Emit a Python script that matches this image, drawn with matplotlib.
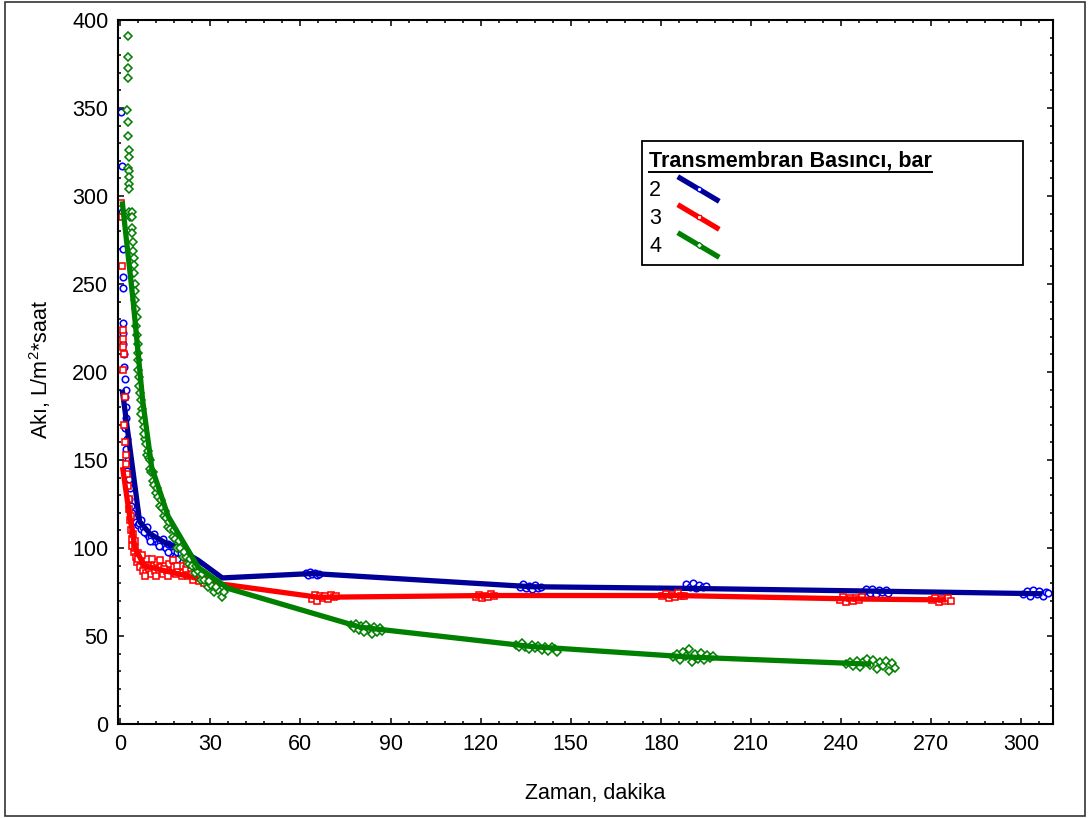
import matplotlib
matplotlib.use("Agg")
import matplotlib.pyplot as plt
from matplotlib.lines import Line2D
from matplotlib.patches import Rectangle
from matplotlib.ticker import MultipleLocator

W, H = 1089, 818

# ---- fitted lines (time, flux) ----
line2_t = [0.7, 6.5, 10, 15, 20, 26, 34, 64, 137, 191, 251, 307]
line2_y = [190, 115, 108, 103, 99, 93, 83, 85.5, 78, 77, 75.5, 74]
line3_t = [0.8, 3, 5, 8, 15, 25, 30, 36, 66, 122, 185, 246, 275]
line3_y = [146, 120, 100, 90, 87, 83, 80, 79, 72, 73, 73, 71, 70.5]
line4_t = [0.7, 4.3, 7.5, 10.5, 16, 26, 36, 80, 137, 190, 250]
line4_y = [297, 241, 184, 146, 118, 89, 77, 55, 44, 38, 34]

# ---- measured points, 2 bar ----
pts2_t = [0.4, 0.5, 0.5, 0.8, 0.9, 0.8, 1.0, 0.9, 1.1, 1.3, 1.2, 1.7, 1.9, 1.5, 1.8,
          2.1, 1.7, 2.3, 2.0, 2.5, 2.4, 2.9, 3.2, 3.1, 3.6, 4.0, 4.4, 5.2, 5.8, 6.4,
          7.0, 7.6, 8.3, 9.0, 9.6, 10.3, 11.0, 11.8, 12.5, 13.2, 14.0, 14.6, 15.3,
          16.0, 16.8, 17.5, 18.3, 19.1,
          6.8, 7.9, 8.8, 10.0, 11.4, 12.8, 14.3, 15.8, 17.2, 18.8, 20.2,
          61.8, 62.5, 63.2, 64.0, 64.8, 65.5, 66.3,
          133.0, 134.2, 135.0, 136.1, 137.0, 138.2, 139.1, 140.0,
          188.5, 189.8, 190.6, 191.7, 192.8, 194.0, 195.0,
          247.2, 248.3, 249.5, 250.4, 251.6, 252.5, 253.6, 254.8, 255.6,
          300.5, 301.8, 302.9, 304.0, 305.1, 306.0, 307.2, 308.3, 309.0]
pts2_y = [348, 317, 291, 270, 254, 248, 228, 222, 216, 210, 203, 196, 190, 186, 180,
          174, 168, 162, 156, 150, 144, 139, 134, 128, 124, 120, 117, 115, 113, 114,
          111, 112, 109, 108, 106, 107, 104, 105, 103, 104, 101, 103, 100,
          102, 97, 99, 95, 98,
          116, 109, 112, 104, 108, 101, 105, 98, 101, 94, 97,
          86, 84.5, 86.5, 85, 86, 84.5, 85.5,
          78, 79.5, 77, 78.5, 76.5, 79, 77.5, 78,
          79.5, 78, 80, 77.5, 79, 78, 78.5,
          75, 76.5, 74.5, 76.5, 74, 76, 75, 76, 74.5,
          74, 75.5, 73, 76, 74, 75.5, 73, 75, 74.5]

# ---- measured points, 3 bar ----
pts3_t = [0.3, 0.5, 0.6, 0.9, 0.8, 1.0, 1.2, 1.1, 1.5, 1.3, 1.6, 1.9, 2.1, 2.3, 2.5,
          2.8, 3.0, 3.2, 3.5, 3.8, 4.1, 4.5, 4.9, 5.3, 5.7, 6.1, 6.6, 7.0, 7.5, 8.0,
          8.5, 9.0, 9.6, 10.2, 10.8, 11.5, 12.2, 12.9, 13.6, 14.3, 15.0, 15.7, 16.4,
          17.1, 17.9, 18.6, 19.4, 20.2, 21.0, 21.8, 22.6, 23.5, 24.4, 25.3, 26.2,
          27.1, 28.0, 28.9, 29.8,
          3.6, 4.4, 5.1, 6.0, 7.3, 8.2, 9.3, 10.5, 11.9, 13.3, 14.7, 16.1, 17.6,
          19.0, 20.6, 22.2, 24.0, 25.8, 27.5,
          63.8, 64.8, 65.6, 66.5, 67.4, 68.3, 69.2, 70.2, 71.1, 72.0,
          118.5, 119.6, 120.5, 121.6, 122.5, 123.5, 124.6,
          180.5, 181.6, 182.6, 183.6, 184.6, 185.6, 186.8, 187.8,
          239.5, 240.6, 241.7, 242.8, 243.8, 245.0, 246.0, 247.0,
          270.2, 271.3, 272.4, 273.5, 274.6, 275.6, 276.5]
pts3_y = [296, 288, 260, 224, 219, 214, 210, 201, 186, 170, 160, 153, 148, 142, 135,
          128, 122, 116, 110, 105, 101, 98, 104, 95, 92, 97, 89, 93, 87, 91,
          86, 94, 88, 85, 90, 87, 92, 86, 89, 85, 90, 87, 91,
          86, 89, 85, 88, 90, 86, 88, 84, 87, 82, 85, 81,
          83, 80, 82, 80,
          118, 108, 100, 94, 96, 84, 90, 94, 84, 93, 88, 84, 93,
          90, 84, 91, 85, 84, 82,
          71, 73.5, 70, 72.5, 71.5, 73, 71, 73.5, 72, 73,
          72, 73.5, 71.5, 73, 72, 74, 72.5,
          72.5, 74, 71.5, 73.5, 72, 74.5, 73, 72.5,
          70.5, 72, 69.5, 71.5, 70, 71.5, 70.5, 72,
          70.5, 71.5, 69.5, 71, 70, 71.5, 70]

# ---- measured points, 4 bar ----
pts4_t = [2.6, 2.5, 2.5, 2.6, 2.4, 2.5, 2.7, 2.8, 2.8, 2.7, 2.9, 2.8, 2.8, 2.9, 3.1,
          3.2, 3.8, 4.0, 3.9, 4.1, 4.2, 4.3, 4.6, 4.5, 4.6, 4.9, 5.0, 5.1, 5.2, 5.5,
          5.4, 5.6, 5.8, 5.9, 6.0, 6.1, 6.2, 6.4, 6.6, 6.9, 7.2, 7.6, 7.9, 8.3, 8.6,
          9.0, 9.5, 9.9, 10.4, 10.9, 11.4, 12.0, 12.6, 13.2, 13.8, 14.5, 15.2, 15.9,
          16.7, 17.5, 18.3, 19.1, 20.0, 20.9, 21.8, 22.8, 23.8, 24.8, 25.8, 26.9,
          28.0, 29.1, 30.2, 31.4, 32.6, 33.8, 34.6,
          7.0, 8.0, 9.2, 10.0, 11.0, 12.3, 13.6, 15.0, 16.4, 18.0, 19.6, 21.3, 23.2,
          25.2, 27.4, 29.7, 32.0,
          76.8, 77.8, 78.6, 79.5, 80.3, 81.2, 82.0, 82.9, 83.8, 84.6, 85.5, 86.4, 87.2,
          131.8, 132.8, 133.8, 134.9, 136.0, 137.0, 138.1, 139.2, 140.3, 141.4, 142.5,
          143.6, 144.7, 145.5,
          184.0, 185.2, 186.3, 187.4, 188.4, 189.4, 190.3, 191.3, 192.3, 193.2, 194.2,
          195.2, 196.2, 197.3,
          241.5, 242.8, 244.0, 245.2, 246.3, 247.4, 248.5, 249.6, 250.7, 251.8, 252.9,
          254.0, 255.0, 256.0, 257.0, 258.0]
pts4_y = [391, 379, 373, 367, 349, 342, 334, 326, 322, 316, 314, 311, 307, 304, 291,
          288, 291, 288, 282, 279, 274, 269, 265, 261, 256, 250, 246, 241, 236, 231,
          226, 221, 216, 211, 207, 201, 197, 192, 188, 184, 179, 172, 169, 162, 159,
          153, 151, 145, 143, 138, 136, 131, 129, 124, 123, 118, 117, 112, 111, 106,
          105, 100, 100, 95, 95, 91, 90, 86, 87, 82, 82, 78, 79, 75, 76, 72, 75,
          176, 165, 155, 150, 143, 134, 127, 121, 115, 110, 104, 98, 94,
          90, 85, 81, 78,
          56, 54.5, 57, 53.5, 55.5, 52.5, 56, 54, 51, 55, 52.5, 54.5, 53,
          45, 43.5, 46, 44, 42.5, 45, 43, 44.5, 42, 44, 41.5, 43.5, 42.5, 41,
          38, 40, 36.5, 41, 38.5, 42.5, 35, 39.5, 37, 40.5, 36.5, 39, 37.5, 38.5,
          34, 35.5, 33, 36, 32.5, 35, 37, 33.5, 36.5, 31.5, 35, 33, 36, 30, 34.5, 32]

labels = ["2", "3", "4"]
line_colors = ["#000099", "#ff0000", "#008000"]
marker_colors = ["#0000ff", "#ff0000", "#008000"]
markers = ["o", "s", "D"]

plt.rcParams["font.family"] = ["Liberation Sans", "DejaVu Sans"]
plt.rcParams["mathtext.fontset"] = "custom"
plt.rcParams["mathtext.rm"] = "Liberation Sans"
plt.rcParams["mathtext.it"] = "Liberation Sans"

fig = plt.figure(figsize=(W / 100, H / 100), dpi=100)
R = 1053
ax = fig.add_axes([118 / W, 1 - 724 / H, (R - 118) / W, (724 - 20) / H])


def fx(x):
    return x / W


def fy(y):
    return 1 - y / H


series = [(line2_t, line2_y, pts2_t, pts2_y),
          (line3_t, line3_y, pts3_t, pts3_y),
          (line4_t, line4_y, pts4_t, pts4_y)]
for i, (lt, ly, pt, py) in enumerate(series):
    ms = 4.4 if markers[i] == "D" else 4.7
    ax.plot(pt, py, linestyle="none", marker=markers[i], ms=ms, mew=1.15,
            mec=marker_colors[i], mfc="white", zorder=2 + i * 0.2)
    ax.plot(lt, ly, color=line_colors[i], lw=3.8, solid_capstyle="butt",
            zorder=2.1 + i * 0.2)

ax.set_xlim(-0.7, 310.5)
ax.set_ylim(0, 400)
ax.xaxis.set_major_locator(MultipleLocator(30))
ax.xaxis.set_minor_locator(MultipleLocator(6))
ax.yaxis.set_major_locator(MultipleLocator(50))
ax.yaxis.set_minor_locator(MultipleLocator(10))
ax.tick_params(which="both", direction="in", top=True, right=True, width=1.1,
               labelsize=15.5, colors="black")
ax.tick_params(which="major", length=4.5)
ax.tick_params(which="minor", length=2.3)
ax.tick_params(axis="y", pad=7)
ax.tick_params(axis="x", pad=7)
for s in ax.spines.values():
    s.set_linewidth(1.5)

fig.text(fx(595), fy(793), "Zaman, dakika", fontsize=15.5, ha="center", va="center")
fig.text(fx(40), fy(370), "Akı, L/m$^2$*saat", fontsize=15.5, ha="center",
         va="center", rotation=90)

# legend box, Statistica style
fig.add_artist(Rectangle((fx(642), fy(265)), fx(1023 - 642), (265 - 141) / H,
                         transform=fig.transFigure, fill=True, facecolor="white",
                         edgecolor="black", lw=1.3, zorder=5))
fig.text(fx(649), fy(161), "Transmembran Basıncı, bar", fontsize=15.5,
         fontweight="bold", ha="left", va="center", zorder=6)
fig.add_artist(Line2D([fx(649), fx(932)], [fy(172), fy(172)],
                      transform=fig.transFigure, color="black", lw=1.4, zorder=6))
item_y = [190, 218, 246]
for i, lab in enumerate(labels):
    yc = item_y[i]
    fig.text(fx(649), fy(yc), lab, fontsize=15.5, ha="left", va="center", zorder=6)
    fig.add_artist(Line2D([fx(680), fx(717)], [fy(yc - 12), fy(yc + 10)],
                          transform=fig.transFigure, color=line_colors[i], lw=3.8,
                          zorder=6))
    fig.add_artist(Line2D([fx(698.5)], [fy(yc - 1)], transform=fig.transFigure,
                          marker=markers[i], ms=3.2, mew=0.9, mec=marker_colors[i],
                          mfc="white", linestyle="none", zorder=7))

# outer frame
fig.add_artist(Rectangle((fx(5), fy(816)), fx(1085 - 5), (816 - 2) / H,
                         transform=fig.transFigure, fill=False, edgecolor="#333333",
                         lw=1.2))

fig.savefig("out.png", dpi=100)
